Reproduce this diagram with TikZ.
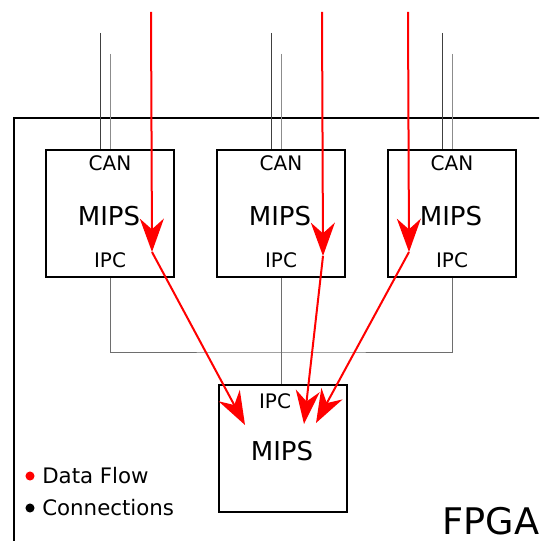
\documentclass[tikz,border=0pt]{standalone}
\usepackage{fontspec}
\setmainfont{DejaVu Sans}
\usetikzlibrary{arrows.meta}

\definecolor{flow}{RGB}{255,0,0}
\definecolor{wire}{RGB}{110,110,110}

\tikzset{
  cpu/.style={draw, line width=1.5pt, minimum width=96pt, minimum height=95pt, inner sep=0pt},
  cpuname/.style={anchor=center, font=\fontsize{19.5}{20}\selectfont},
  port/.style={anchor=center, font=\fontsize{15}{16}\selectfont},
  dataflow/.style={flow, line width=1.5pt, -{Stealth[length=25pt, width=18pt, inset=8pt]}},
}

\begin{document}
\begin{tikzpicture}[x=0.75pt, y=-0.75pt]

  \clip (0,0) rectangle (539,541);

  % the FPGA frame, only its top left corner is in view
  \draw[line width=1.5pt] (14,560) -- (14,118) -- (560,118);
  \node[anchor=base west, font=\fontsize{27.5}{28}\selectfont] (fpga) at (438,534) {FPGA};

  % the three CAN-side processors and the one below them
  \node[cpu] (mips1) at (110,213.5) {};
  \node[cpu] (mips2) at (281,213.5) {};
  \node[cpu] (mips3) at (452,213.5) {};
  \node[cpu] (mipsb) at (283,448.5) {};

  \node[port] (can1) at (110,163) {CAN};
  \node[port] (can2) at (281,163) {CAN};
  \node[port] (can3) at (452,163) {CAN};
  \node[cpuname] (name1) at (109,216) {MIPS};
  \node[cpuname] (name2) at (280,216) {MIPS};
  \node[cpuname] (name3) at (451,216) {MIPS};
  \node[port] (ipc1) at (110,260) {IPC};
  \node[port] (ipc2) at (281,260) {IPC};
  \node[port] (ipc3) at (452,260) {IPC};
  \node[port] (ipcb) at (275,401) {IPC};
  \node[cpuname] (nameb) at (282,451) {MIPS};

  % CAN bus wires coming in from above
  \foreach \i/\x in {1/110, 2/281, 3/452}{
    \coordinate (cana\i) at (\x-10,33);
    \coordinate (canb\i) at (\x,54);
    \draw[black!75, line width=0.75pt] (cana\i) -- (cana\i |- mips\i.north);
    \draw[black!45, line width=0.75pt] (canb\i) -- (canb\i |- mips\i.north);
  }

  % IPC wiring between the processors
  \coordinate (bus) at (281,352);
  \draw[wire, line width=0.75pt] (mips1.south) |- (bus) -| (mips3.south);
  \draw[wire, line width=0.75pt] (mips2.south) -- (mips2.south |- mipsb.north);

  % data flow: in from the top, on to the lower processor
  \coordinate (in1) at (151,12);
  \coordinate (in2) at (322,12);
  \coordinate (in3) at (408,12);
  \coordinate (hit1) at (152,252);
  \coordinate (hit2) at (323,256);
  \coordinate (hit3) at (409,252);
  \coordinate (out1) at (245,425);
  \coordinate (out2) at (304,424);
  \coordinate (out3) at (316,423);
  \foreach \i in {1,2,3}{
    \draw[dataflow] (in\i) -- (hit\i);
    \draw[dataflow] (hit\i) -- (out\i);
  }

  % legend
  \fill[flow] (30,476) circle[radius=3.4pt];
  \fill[black] (30,508) circle[radius=3.4pt];
  \node[anchor=west, inner sep=0pt, font=\fontsize{16}{17}\selectfont] (lflow) at (42,476) {Data Flow};
  \node[anchor=west, inner sep=0pt, font=\fontsize{16}{17}\selectfont] (lconn) at (42,508) {Connections};

\end{tikzpicture}
\end{document}
